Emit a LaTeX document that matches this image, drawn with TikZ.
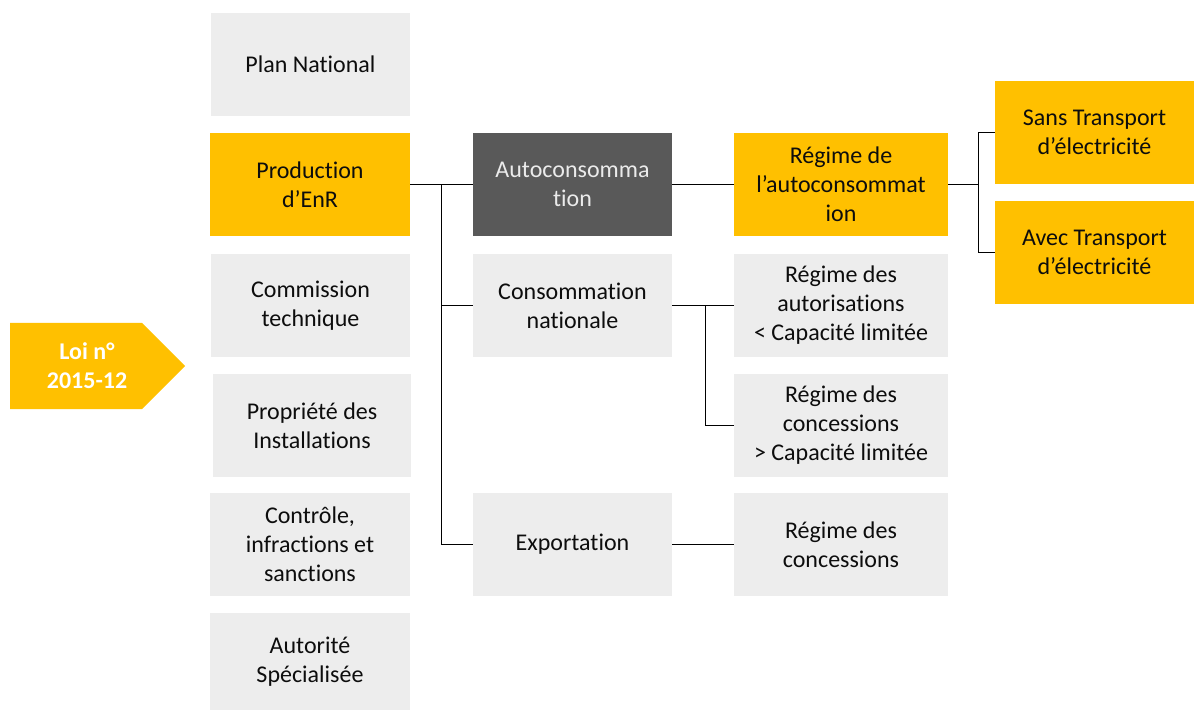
\documentclass[tikz,border=0pt]{standalone}
\usepackage{fontspec}
\setmainfont{Carlito}[Ligatures=NoCommon]
\definecolor{yel}{HTML}{FFC000}
\definecolor{lgray}{HTML}{EDEDED}
\definecolor{dgray}{HTML}{595959}
\definecolor{txt}{HTML}{0D0D0D}
\begin{document}
\begin{tikzpicture}[x=1pt,y=-1pt,
  box/.style={rectangle,inner sep=0pt,align=center,text=txt,font=\fontsize{24}{29}\selectfont},
  gbox/.style={box,fill=lgray},
  ybox/.style={box,fill=yel},
  dbox/.style={box,fill=dgray,text=white!92!black},
  conn/.style={draw=black,line width=1pt}]
\useasboundingbox (0,0) rectangle (1194,711);
% left column
\node[gbox,minimum width=199,minimum height=103] (plan) at (310.5,64.5) {Plan National};
\node[ybox,minimum width=200,minimum height=103] (prod) at (310,184.5) {Production\\d’EnR};
\node[gbox,minimum width=199,minimum height=103] (comm) at (310.5,305.5) {Commission\\technique};
\node[gbox,minimum width=198,minimum height=103] (prop) at (312,425.5) {Propriété des\\Installations};
\node[gbox,minimum width=200,minimum height=103] (ctrl) at (310,544.5) {Contrôle,\\infractions et\\sanctions};
\node[gbox,minimum width=200,minimum height=97] (autor) at (310,661.5) {Autorité\\Spécialisée};
% middle column
\node[dbox,minimum width=199,minimum height=103] (auto) at (572.5,184.5) {Autoconsomma\\tion};
\node[gbox,minimum width=199,minimum height=103] (conso) at (572.5,305.5) {Consommation\\nationale};
\node[gbox,minimum width=199,minimum height=103] (expo) at (572.5,544.5) {Exportation};
% right column
\node[ybox,minimum width=214,minimum height=103] (regauto) at (841,184.5) {Régime de\\l’autoconsommat\\ion};
\node[gbox,minimum width=214,minimum height=103] (regaut) at (841,305.5) {Régime des\\autorisations\\< Capacité limitée};
\node[gbox,minimum width=214,minimum height=103] (regcon) at (841,425.5) {Régime des\\concessions\\> Capacité limitée};
\node[gbox,minimum width=214,minimum height=103] (regexp) at (841,544.5) {Régime des\\concessions};
% far right
\node[ybox,minimum width=199,minimum height=103] (sans) at (1094.5,132.5) {Sans Transport\\d’électricité};
\node[ybox,minimum width=199,minimum height=103] (avec) at (1094.5,252.5) {Avec Transport\\d’électricité};
% Loi arrow
\fill[yel] (10,323) -- (142,323) -- (185,366) -- (142,409) -- (10,409) -- cycle;
\node[box,text=white,font=\fontsize{24}{29}\selectfont\bfseries] (loi) at (87,366) {Loi n°\\2015-12};
% connectors
\coordinate (t1) at (441,0);
\coordinate (t2) at (705,0);
\coordinate (t3) at (978,0);
\draw[conn] (prod.east) -- (auto.west);
\draw[conn] (t1 |- prod.east) |- (expo.west);
\draw[conn] (t1 |- conso.west) -- (conso.west);
\draw[conn] (auto.east) -- (regauto.west);
\draw[conn] (conso.east) -- (regaut.west);
\draw[conn] (t2 |- conso.east) |- (regcon.west);
\draw[conn] (expo.east) -- (regexp.west);
\draw[conn] (regauto.east) -- (t3 |- regauto.east);
\draw[conn] (sans.west) -- (t3 |- sans.west) -- (t3 |- avec.west) -- (avec.west);
\end{tikzpicture}
\end{document}
